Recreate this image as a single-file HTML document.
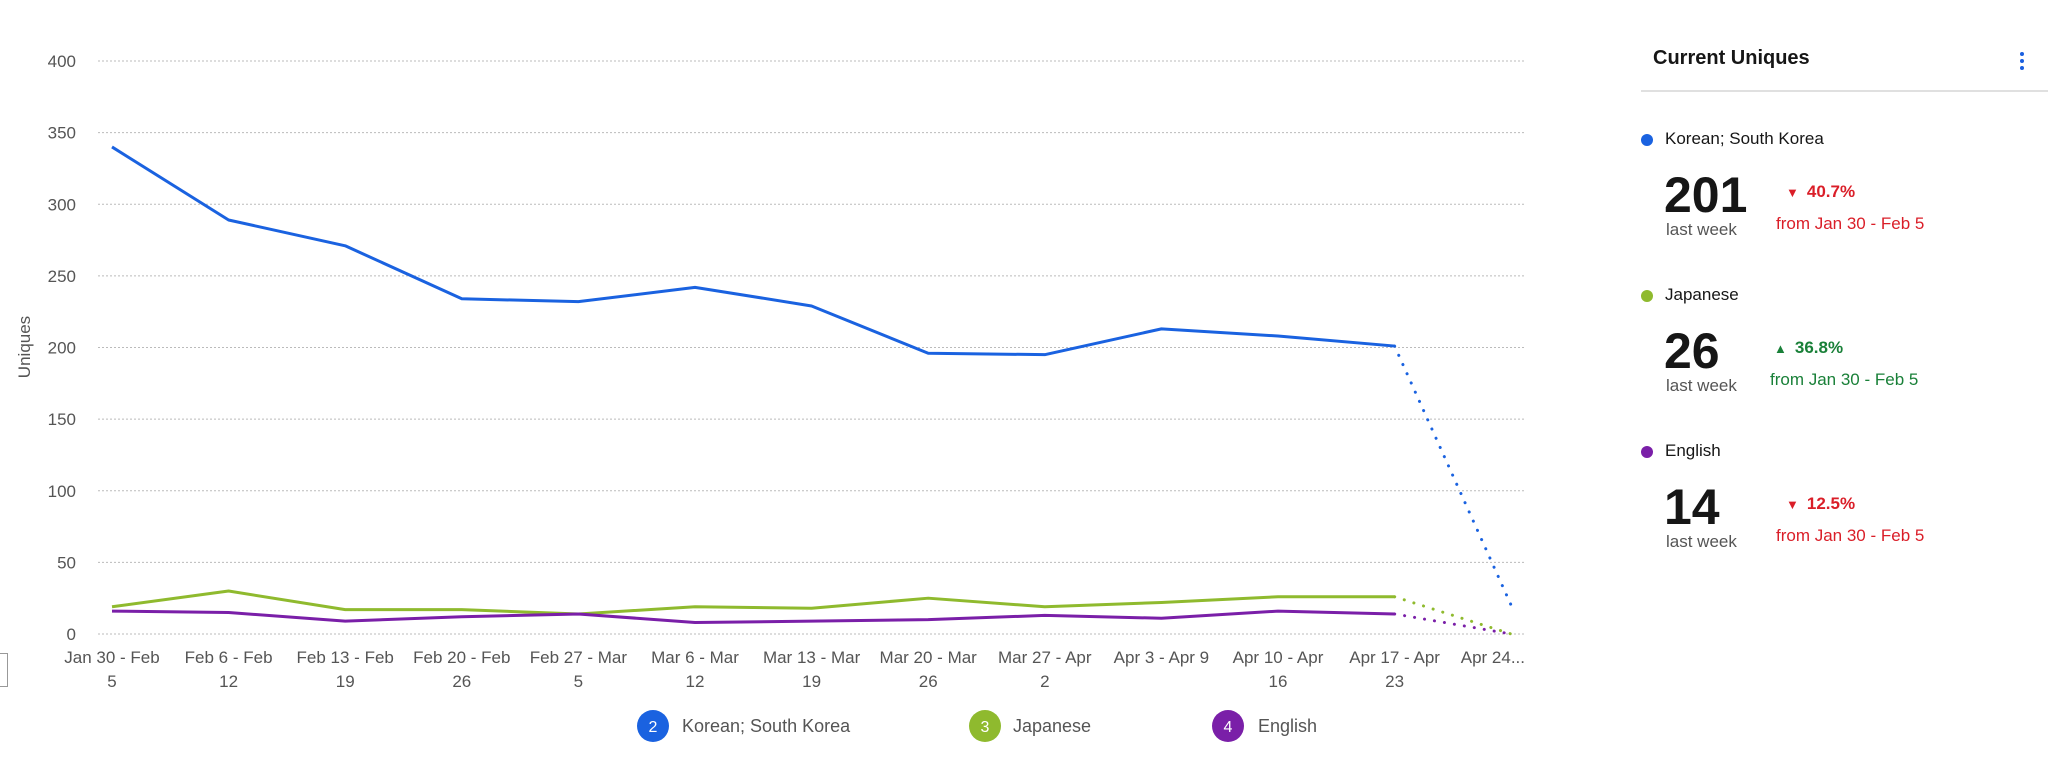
<!DOCTYPE html>
<html><head><meta charset="utf-8"><style>
body{margin:0;width:2048px;height:764px;background:#fff;font-family:"Liberation Sans",sans-serif;overflow:hidden;position:relative}
.a{position:absolute;white-space:nowrap}
</style></head><body>
<svg id="chart" width="1600" height="764" style="position:absolute;left:0;top:0"></svg>
<div class="a" style="left:-4px;top:653px;width:10px;height:32px;border:1px solid #999"></div>

<div class="a" style="left:1653px;top:47px;font-size:20px;font-weight:bold;color:#161616">Current Uniques</div>
<div class="a" style="left:2018px;top:50px;width:8px;height:22px">
<div style="position:absolute;left:2px;top:2px;width:4px;height:4px;border-radius:2px;background:#1a5fe0"></div>
<div style="position:absolute;left:2px;top:9px;width:4px;height:4px;border-radius:2px;background:#1a5fe0"></div>
<div style="position:absolute;left:2px;top:16px;width:4px;height:4px;border-radius:2px;background:#1a5fe0"></div></div>
<div class="a" style="left:1641px;top:90px;width:407px;height:2px;background:#e0e0e0"></div>

<div id="cards"></div>
<script>
const categories=[["Jan 30 - Feb","5"],["Feb 6 - Feb","12"],["Feb 13 - Feb","19"],["Feb 20 - Feb","26"],["Feb 27 - Mar","5"],["Mar 6 - Mar","12"],["Mar 13 - Mar","19"],["Mar 20 - Mar","26"],["Mar 27 - Apr","2"],["Apr 3 - Apr 9",""],["Apr 10 - Apr","16"],["Apr 17 - Apr","23"],["Apr 24...",""]];
const korean=[340,289,271,234,232,242,229,196,195,213,208,201,20];
const japanese=[19,30,17,17,14,19,18,25,19,22,26,26,0];
const english=[16,15,9,12,14,8,9,10,13,11,16,14,0];
const yTicks=[0,50,100,150,200,250,300,350,400];
const seriesNames=["Korean; South Korea","Japanese","English"];
const colors=["#1a62e0","#8fba2e","#7a1fa8"];

const NS="http://www.w3.org/2000/svg",svg=document.getElementById('chart');
const X=i=>112+i*116.6, Y=v=>634-v*(573/400);
function el(t,a,p){const e=document.createElementNS(NS,t);for(const k in a)e.setAttribute(k,a[k]);(p||svg).appendChild(e);return e;}
yTicks.forEach(v=>{
 const g=el('line',{x1:98,x2:1525,y1:Y(v),y2:Y(v),stroke:'#bbb','stroke-width':1,'stroke-dasharray':'2,2'});
 
 
 const t=el('text',{x:76,y:Y(v)+6,'text-anchor':'end','font-size':17,fill:'#555'});t.textContent=v;
 
 
});
const yt=el('text',{x:0,y:0,transform:'translate(30,347) rotate(-90)','text-anchor':'middle','font-size':17,fill:'#555'});yt.textContent='Uniques';


categories.forEach((c,i)=>{
 const last=i===categories.length-1;
 c.forEach((s,j)=>{if(!s)return;const t=el('text',{x:last?1525:X(i),y:663+j*24,'text-anchor':last?'end':'middle','font-size':17,fill:'#555'});t.textContent=s;
 
 });
});
[korean,japanese,english].forEach((d,s)=>{
 const n=d.length-1;
 const pts=d.slice(0,n).map((v,i)=>X(i)+','+Y(v)).join(' ');
 const l=el('polyline',{points:pts,fill:'none',stroke:colors[s],'stroke-width':3,'stroke-linejoin':'round'});
 
 
 const p=el('line',{x1:X(n-1),y1:Y(d[n-1]),x2:X(n),y2:Y(d[n]),stroke:colors[s],'stroke-width':3,'stroke-dasharray':'0.1,10','stroke-linecap':'round'});
 
 
});
const lx=[653,985,1228],tw=[682,1013,1258];
seriesNames.forEach((n,i)=>{
 const c=el('circle',{cx:lx[i],cy:726,r:16,fill:colors[i]});
 
 
 const num=el('text',{x:lx[i],y:732,'text-anchor':'middle','font-size':16,fill:'#fff'});num.textContent=i+2;
 const t=el('text',{x:tw[i],y:732,'font-size':18,fill:'#555'});t.textContent=n;
 
 
});
const vals=["201","26","14"],pcts=["40.7%","36.8%","12.5%"],up=[false,true,false];
const tops=[140,296,452];
const cards=document.getElementById('cards');
seriesNames.forEach((n,i)=>{
 const t=tops[i],col=up[i]?'#198038':'#da1e28',ax=up[i]?1774:1786,px=up[i]?1770:1776;
 cards.insertAdjacentHTML('beforeend',
 `<div class="a" style="left:1641px;top:${t-6}px;width:12px;height:12px;border-radius:6px;background:${colors[i]}"></div>
 <div class="a" style="left:1665px;top:${t-11}px;font-size:17px;color:#161616">${n}</div>
 <div class="a" style="left:1664px;top:${t+27}px;font-size:50px;font-weight:bold;color:#161616;line-height:56px">${vals[i]}</div>
 <div class="a" style="left:1666px;top:${t+80}px;font-size:17px;color:#555">last week</div>
 <div class="a" style="left:${ax}px;top:${t+42}px;font-size:17px;font-weight:bold;color:${col}"><span style="font-size:13px;margin-right:8px">${up[i]?'▲':'▼'}</span>${pcts[i]}</div>
 <div class="a" style="left:${px}px;top:${t+74}px;font-size:17px;color:${col}">from Jan 30 - Feb 5</div>`);
});
</script>
</body></html>
